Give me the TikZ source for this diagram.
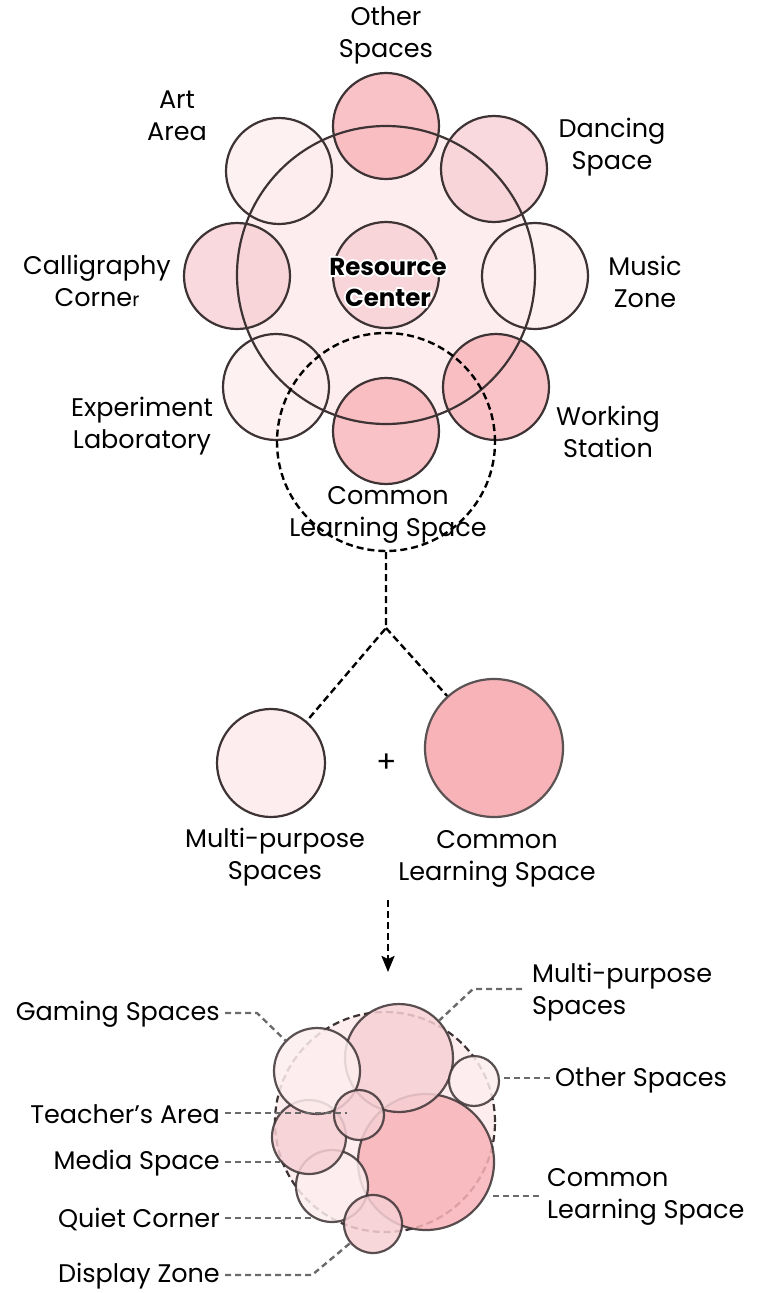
\documentclass[tikz,border=0pt]{standalone}
\usepackage{fontspec}
\setmainfont{Poppins}
\usetikzlibrary{arrows.meta,calc}
\definecolor{pkA}{HTML}{FDEDEE}
\definecolor{pkB}{HTML}{F7D0D4}
\definecolor{pkC}{HTML}{F7B3B8}
\definecolor{ln}{HTML}{3D3335}
\definecolor{gr}{HTML}{6A6A6A}
\newcommand{\fs}{\fontsize{25.5}{32}\selectfont}
\tikzset{
  bub/.style={circle, draw=ln, line width=2.2pt, inner sep=0pt, minimum size=#1},
  ringfill/.style={circle, inner sep=0pt, minimum size=106pt, fill=#1, fill opacity=0.8},
  ringline/.style={circle, inner sep=0pt, minimum size=106pt, draw=ln, line width=2.2pt},
  cl/.style={circle, draw=ln, line width=2.2pt, inner sep=0pt, opacity=0.85, minimum size=#1},
  lbl/.style={font=\fs, align=center, inner sep=0pt},
  lbll/.style={font=\fs, align=left, inner sep=0pt},
  lblr/.style={font=\fs, align=right, inner sep=0pt},
  rcl/.style={font=\fontsize{24.5}{31}\selectfont\bfseries, align=center, inner sep=0pt},
  dsh/.style={draw=black, line width=2.4pt, dash pattern=on 7pt off 4pt},
  lead/.style={draw=gr, line width=2.4pt, dash pattern=on 6pt off 4pt},
}
\begin{document}
\begin{tikzpicture}[x=1pt,y=-1pt]
\useasboundingbox (0,0) rectangle (766,1293);
% ---------- top ----------
\fill[pkA] (386,275) circle[radius=149];
\node[ringfill=pkC] (fo) at (386,126) {};
\node[ringfill=pkB] (fd) at (494,169) {};
\node[ringfill=pkA] (fm) at (535,276) {};
\node[ringfill=pkC] (fw) at (496,387) {};
\node[ringfill=pkC] (fc) at (386,431) {};
\node[ringfill=pkA] (fe) at (276,387) {};
\node[ringfill=pkB] (fk) at (237,276) {};
\node[ringfill=pkA] (fa) at (279,171) {};
\node[ringfill=pkB] (fr) at (386,275) {};
\node[ringline] (co) at (fo) {};
\node[ringline] (cd) at (fd) {};
\node[ringline] (cm) at (fm) {};
\node[ringline] (cw) at (fw) {};
\node[ringline] (cc) at (fc) {};
\node[ringline] (ce) at (fe) {};
\node[ringline] (ck) at (fk) {};
\node[ringline] (ca) at (fa) {};
\node[ringline] (cr) at (fr) {};
\node[circle, draw=ln, line width=2.2pt, inner sep=0pt, minimum size=298pt] (big) at (386,275) {};

\node[lbl] (tOther) at (386,35) {Other\\Spaces};
\node[lbl] (tArt) at (177,116) {Art\\Area};
\node[lbl] (tDance) at (612,147) {Dancing\\Space};
\node[lbl] (tCalli) at (97,281) {Calligraphy\\Corne{\fontsize{19}{19}\selectfont r}};
\node[lbl] (tMusic) at (645,282) {Music\\Zone};
\node[lbl] (tExp) at (142,426) {Experiment\\Laboratory};
\node[lbl] (tWork) at (608,432) {Working\\Station};
\node[lbl] (tCommon) at (388,515) {Common\\Learning Space};
\coordinate (rcpos) at (388,282);
\node[rcl, text=white] (tResHalo) at (rcpos) {\special{pdf:literal direct 1 1 1 RG 4 w 1 j 1 Tr}Resource\\Center\special{pdf:literal direct 0 Tr}};
\node[rcl] (tRes) at (rcpos) {Resource\\Center};

\node[circle, dsh, inner sep=0pt, minimum size=218pt] (dtop) at (386,442) {};

% ---------- middle ----------
\coordinate (j) at (386,628);
\node[bub=108pt, fill=pkA] (mp) at (271,763) {};
\node[bub=138pt, fill=pkC, draw=ln!85] (cls) at (494,748) {};
\node[font=\fontsize{30}{30}\selectfont, inner sep=0pt] (plus) at (387,763) {+};
\draw[dsh] (dtop.south) -- (j) -- (mp);
\draw[dsh] (j) -- (cls);
\node[lbl] (tMP) at (275,857) {Multi-purpose\\Spaces};
\node[lbl] (tCLS) at (497,859) {Common\\Learning Space};
\coordinate (arS) at (388,900);
\coordinate (arE) at (388,972);
\draw[dsh, -{Stealth[length=16pt,width=13pt,inset=3pt]}] (arS) -- (arE);

% ---------- bottom cluster ----------
\node[circle, inner sep=0pt, minimum size=220pt, fill=pkA, draw=ln, line width=2.2pt, dash pattern=on 7pt off 4pt] (bg) at (385,1122) {};
\node[cl=136pt, fill=pkC] (bCom) at (426,1162) {};
\node[cl=72pt, fill=pkA] (bQui) at (332,1186) {};
\node[cl=108pt, fill=pkB] (bMul) at (399,1058) {};
\node[cl=74pt, fill=pkB] (bMed) at (309,1137) {};
\node[cl=86pt, fill=pkA] (bGam) at (317,1071) {};
\node[cl=50pt, fill=pkA] (bOth) at (474,1081) {};
\node[cl=50pt, fill=pkB] (bTea) at (359,1115) {};
\node[cl=58pt, fill=pkB] (bDis) at (373,1224) {};

\node[lblr, anchor=east] (lGam) at (220,1014) {Gaming Spaces};
\node[lblr, anchor=east] (lTea) at (220,1114) {Teacher’s Area};
\node[lblr, anchor=east] (lMed) at (220,1163) {Media Space};
\node[lblr, anchor=east] (lQui) at (220,1219) {Quiet Corner};
\node[lblr, anchor=east] (lDis) at (220,1276) {Display Zone};
\node[lbll, anchor=west] (lMul) at (532,992) {Multi-purpose\\Spaces};
\node[lbll, anchor=west] (lOth) at (555,1080) {Other Spaces};
\node[lbll, anchor=west] (lCom) at (547,1197) {Common\\Learning Space};

\coordinate (kGam) at (257,1013);
\coordinate (kMul) at (473,989);
\coordinate (kDis) at (312,1275);
\coordinate (kTea) at (347,1113);
\coordinate (kMed) at (280,1162);
\coordinate (kQui) at (313,1218);
\coordinate (kOth) at (499,1078);
\coordinate (kCom) at (489,1196);
\draw[lead] (225,1013) -- (kGam) -- (bGam);
\draw[lead] (225,1113) -- (kTea);
\draw[lead] (225,1162) -- (kMed);
\draw[lead] (225,1218) -- (kQui);
\draw[lead] (225,1275) -- (kDis) -- (bDis);
\draw[lead] (522,989) -- (kMul) -- (bMul);
\draw[lead] (550,1078) -- (kOth);
\draw[lead] (539,1196) -- (kCom);
\end{tikzpicture}
\end{document}
